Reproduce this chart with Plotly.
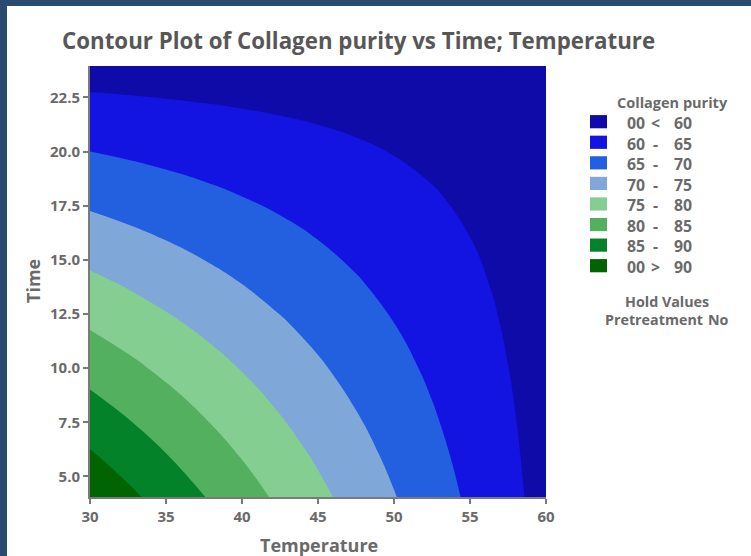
import plotly.graph_objects as go

# ---- data ----
temperature = [30, 32.5, 35, 37.5, 40, 42.5, 45, 47.5, 50, 52.5, 55, 57.5, 60]
time = [4, 6, 8, 10, 12, 14, 16, 18, 20, 22, 24]
purity = [
    [94.13, 91.14, 88.16, 85.17, 82.19, 79.20, 76.22, 73.24, 70.25, 67.26, 64.28, 61.29, 58.31],
    [90.49, 87.80, 85.11, 82.41, 79.72, 77.03, 74.34, 71.65, 68.95, 66.26, 63.57, 60.88, 58.18],
    [86.85, 84.45, 82.05, 79.65, 77.25, 74.85, 72.45, 70.05, 67.66, 65.26, 62.86, 60.46, 58.06],
    [83.21, 81.10, 79.00, 76.89, 74.79, 72.68, 70.57, 68.47, 66.36, 64.25, 62.15, 60.04, 57.94],
    [79.57, 77.76, 75.94, 74.13, 72.32, 70.50, 68.69, 66.88, 65.06, 63.25, 61.44, 59.62, 57.81],
    [75.93, 74.41, 72.89, 71.37, 69.85, 68.33, 66.81, 65.29, 63.77, 62.25, 60.73, 59.21, 57.69],
    [72.29, 71.06, 69.84, 68.61, 67.38, 66.15, 64.93, 63.70, 62.47, 61.25, 60.02, 58.79, 57.56],
    [68.65, 67.72, 66.78, 65.85, 64.91, 63.98, 63.04, 62.11, 61.18, 60.24, 59.31, 58.37, 57.44],
    [65.01, 64.37, 63.73, 63.09, 62.45, 61.80, 61.16, 60.52, 59.88, 59.24, 58.60, 57.96, 57.32],
    [61.37, 61.02, 60.67, 60.33, 59.98, 59.63, 59.28, 58.93, 58.58, 58.24, 57.89, 57.54, 57.19],
    [57.73, 57.67, 57.62, 57.56, 57.51, 57.45, 57.40, 57.34, 57.29, 57.23, 57.18, 57.12, 57.07],
]
level_start, level_end, level_step = 60, 90, 5
band_left = ["00", "60", "65", "70", "75", "80", "85", "00"]
band_mid = ["<", "-", "-", "-", "-", "-", "-", ">"]
band_right = ["60", "65", "70", "75", "80", "85", "90", "90"]
band_colors = ["#0e0ba8", "#1313e2", "#2360e0", "#7fa7d8",
               "#84ce91", "#52b05e", "#04822a", "#006400"]
x_ticks = [30, 35, 40, 45, 50, 55, 60]
y_ticks = [5.0, 7.5, 10.0, 12.5, 15.0, 17.5, 20.0, 22.5]

# ---- layout geometry (window pixels) ----
WIN_W, WIN_H = 751, 556
FRAME = "#2b4a6f"
FRAME_L, FRAME_T = 7, 6
W, H = WIN_W, WIN_H
PL, PR, PT, PB = 90, 546, 66, 497  # plot area in window pixels
L, R, T, B = PL, WIN_W - PR, PT, WIN_H - PB
PW, PH = W - L - R, H - T - B

def px(x):
    return (x - L) / PW

def py(y):
    return 1 - (y - T) / PH

TEXT = "#6a6a6a"
FONT = "Open Sans"

def f(size, color=TEXT):
    return dict(size=size, color=color, family=FONT, weight="bold")

n = len(band_colors)
cscale = []
for i, c in enumerate(band_colors):
    cscale.append([i / n, c])
    cscale.append([(i + 1) / n, c])

fig = go.Figure()
fig.add_trace(go.Contour(
    x=temperature, y=time, z=purity,
    autocontour=False,
    contours=dict(start=level_start, end=level_end, size=level_step,
                  coloring="fill", showlines=False),
    line=dict(width=0, smoothing=1.3),
    colorscale=cscale, showscale=False, hoverinfo="x+y+z",
))

def ann(text, x, y, size, xanchor="center", **kw):
    return dict(text=text, x=px(x), y=py(y), xref="paper", yref="paper",
                showarrow=False, xanchor=xanchor, yanchor="middle",
                font=f(size), **kw)

annotations = [
    ann("Temperature", 319, 545, 18),
    ann("Time", 33, 281, 18, textangle=-90),
    ann("Collagen purity", 672, 102, 14.5),
    ann("Hold Values", 666.5, 301, 14.3),
    ann("Pretreatment", 603, 319, 14.3, xanchor="left"),
    ann("No", 731, 319, 14.3, xanchor="right"),
]
shapes = [
    # page frame: left and top strips
    dict(type="rect", xref="paper", yref="paper", layer="above",
         x0=px(-40), x1=px(FRAME_L), y0=py(-40), y1=py(H + 40),
         fillcolor=FRAME, line=dict(width=0)),
    dict(type="rect", xref="paper", yref="paper", layer="above",
         x0=px(-40), x1=px(W + 40), y0=py(-40), y1=py(FRAME_T),
         fillcolor=FRAME, line=dict(width=0)),
]
row0, row_gap = 121.7, 20.57
for i in range(n):
    yc = row0 + i * row_gap
    shapes.append(dict(type="rect", xref="paper", yref="paper",
                       x0=px(590), x1=px(607), y0=py(yc - 6.6), y1=py(yc + 6.6),
                       fillcolor=band_colors[i], line=dict(width=0)))
block_y = row0 + 1 + (n - 1) * row_gap / 2
leg_size = row_gap / 1.3
annotations.append(ann("<br>".join(band_left), 625, block_y, leg_size,
                       xanchor="left", align="left"))
annotations.append(ann("<br>".join(band_mid), 655, block_y, leg_size, align="center"))
annotations.append(ann("<br>".join(band_right), 694, block_y, leg_size,
                       xanchor="right", align="right"))

axis_common = dict(showline=True, linecolor="#7a7a7a", linewidth=2,
                   ticks="outside", ticklen=5, tickwidth=2, tickcolor="#7a7a7a",
                   showgrid=False, zeroline=False, tickfont=f(15))

fig.update_layout(
    width=W, height=H,
    margin=dict(l=L, r=R, t=T, b=B, pad=0),
    paper_bgcolor="white", plot_bgcolor="white",
    title=dict(text="Contour Plot of Collagen purity vs Time; Temperature",
               x=62 / W, xref="container", xanchor="left",
               y=1 - 41.5 / H, yref="container", yanchor="middle",
               font=f(22.3, "#575757")),
    xaxis=dict(range=[30, 60], tickvals=x_ticks, **axis_common),
    yaxis=dict(range=[4.05, 23.95], tickvals=y_ticks, tickformat=".1f", **axis_common),
    shapes=shapes, annotations=annotations,
    showlegend=False,
)

page_css = (
    "document.body.style.margin='0';"
    "document.body.style.padding='0';"
    "document.body.style.overflow='hidden';"
)

fig.write_html("out.html", config={"displayModeBar": False}, post_script=page_css)
